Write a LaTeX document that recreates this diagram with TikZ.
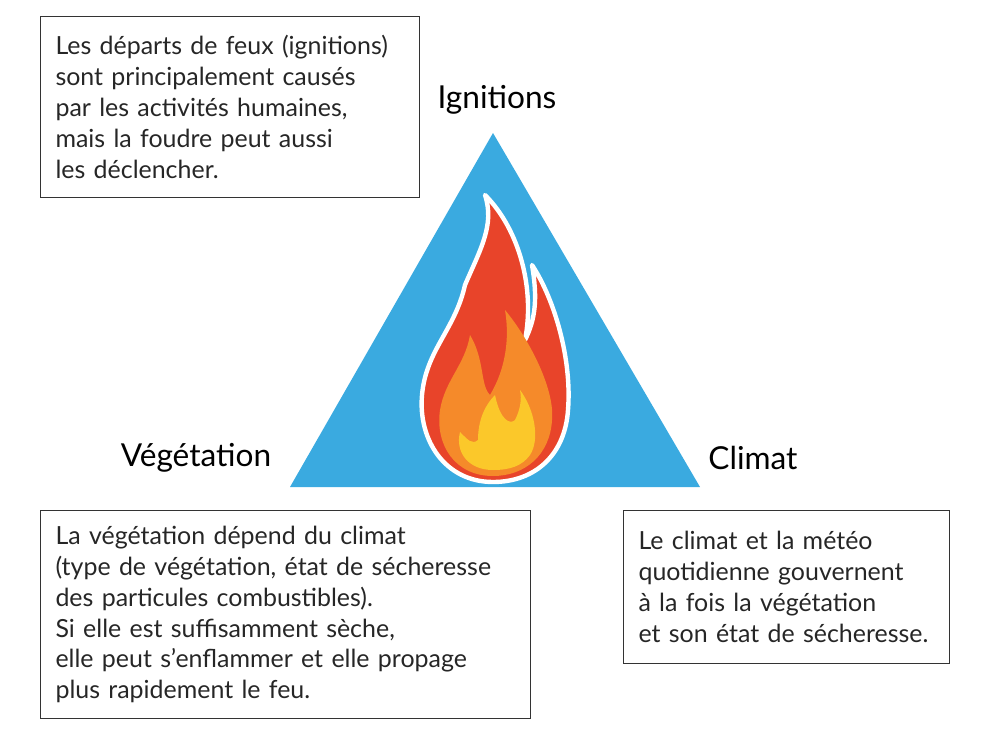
\documentclass[tikz,border=0pt]{standalone}
\usepackage{fontspec}
\setmainfont{Lato}
\definecolor{skyblue}{HTML}{3AAAE0}
\definecolor{firered}{HTML}{E8442A}
\definecolor{fireorange}{HTML}{F58A2A}
\definecolor{fireyellow}{HTML}{FBC82A}
\tikzset{
  infobox/.style={draw=black!80, line width=0.6pt, anchor=north west, align=left,
    inner xsep=0.3cm, font=\fontsize{14.2}{17.6}\selectfont, text=black!85},
  corner/.style={font=\fontsize{18}{21}\selectfont, text=black}
}
\begin{document}
\begin{tikzpicture}[x=0.02cm, y=-0.02cm]
  \useasboundingbox (0,0) rectangle (1000,743);

  % triangle
  \coordinate (apex) at (493,133);
  \coordinate (left) at (290,487);
  \coordinate (right) at (700,487);
  \fill[skyblue] (apex) -- (left) -- (right) -- cycle;

  % flame
  \begin{scope}
    \fill[firered, draw=white, line width=2.5pt, line join=round]
      (493,482) .. controls (445,482) and (418,440) .. (422,395)
      .. controls (426,350) and (455,330) .. (465,285)
      .. controls (480,250) and (495,225) .. (485,195)
      .. controls (520,230) and (535,290) .. (525,340)
      .. controls (535,320) and (538,300) .. (532,265)
      .. controls (555,300) and (572,360) .. (568,410)
      .. controls (565,455) and (535,482) .. (493,482) -- cycle;
    \fill[fireorange]
      (493,476) .. controls (455,476) and (435,445) .. (440,410)
      .. controls (445,380) and (465,365) .. (470,335)
      .. controls (485,360) and (480,385) .. (490,395)
      .. controls (505,370) and (510,340) .. (505,310)
      .. controls (530,340) and (555,390) .. (552,420)
      .. controls (550,455) and (525,476) .. (493,476) -- cycle;
    \fill[fireyellow]
      (493,470) .. controls (468,470) and (455,452) .. (460,432)
      .. controls (468,440) and (472,445) .. (478,440)
      .. controls (478,420) and (485,405) .. (495,395)
      .. controls (500,420) and (510,425) .. (515,420)
      .. controls (520,410) and (522,400) .. (520,390)
      .. controls (535,410) and (540,440) .. (530,455)
      .. controls (522,466) and (510,470) .. (493,470) -- cycle;
  \end{scope}

  % corner labels
  \node[corner] (ignitions) at (497,100) {Ignitions};
  \node[corner] (vegetation) at (196,458) {Végétation};
  \node[corner] (climat) at (753,458) {Climat};

  % text boxes
  \node[infobox, text width=6.98cm, minimum height=3.62cm] (boxign) at (40,16)
    {Les départs de feux (ignitions)\\sont principalement causés\\par les activités humaines,\\mais la foudre peut aussi\\les déclencher.};
  \node[infobox, text width=9.2cm, minimum height=4.16cm] (boxveg) at (40,510)
    {La végétation dépend du climat\\(type de végétation, état de sécheresse\\des particules combustibles).\\Si elle est suffisamment sèche,\\elle peut s’enflammer et elle propage\\plus rapidement le feu.};
  \node[infobox, text width=5.92cm, minimum height=3.06cm] (boxclim) at (623,510)
    {Le climat et la météo\\quotidienne gouvernent\\à la fois la végétation\\et son état de sécheresse.};
\end{tikzpicture}
\end{document}
